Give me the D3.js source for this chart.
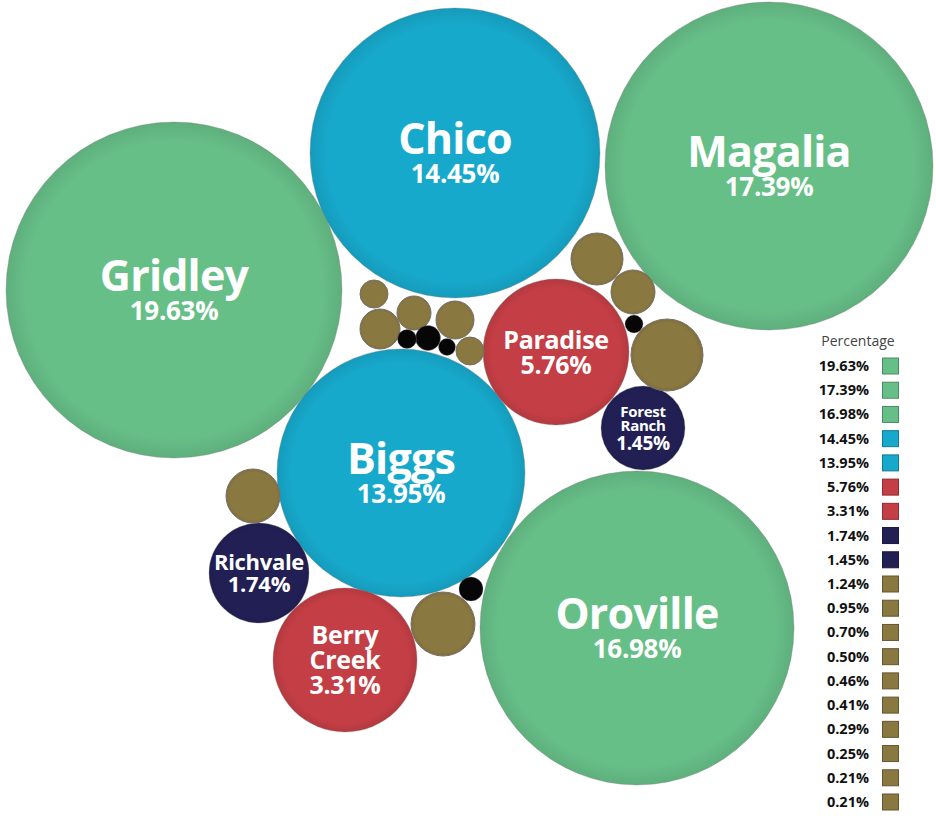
<!DOCTYPE html>
<html>
<head>
<meta charset="utf-8">
<script src="https://cdn.jsdelivr.net/npm/d3@7"></script>
<style>
  body { margin: 0; background: #fff; }
  text { font-family: "Open Sans", sans-serif; }
</style>
</head>
<body>
<div id="chart"></div>
<script>
// Named places, share of total (%)
const placeNames = ['Gridley', 'Magalia', 'Oroville', 'Chico', 'Biggs', 'Paradise', 'Berry Creek', 'Richvale', 'Forest Ranch'];
const placeValues = [19.63, 17.39, 16.98, 14.45, 13.95, 5.76, 3.31, 1.74, 1.45];
// Unlabeled small places (brown bubbles, listed in legend)
const smallValues = [1.24, 0.95, 0.70, 0.50, 0.46, 0.41, 0.29, 0.25, 0.21, 0.21];
// Tiny places (black dots, not in legend) - estimated
const tinyValues = [0.18, 0.17, 0.13, 0.12, 0.11];

// Hand-made bubble arrangement (layout units), same order as the values above
const layoutX = [174, 769, 637, 455, 401, 556, 345, 259, 643,
  667, 443, 253, 597, 633, 380, 455, 414, 374, 470,
  428, 471, 407, 634, 447];
const layoutY = [290, 166, 628, 153, 473, 352, 660, 573, 428,
  355, 624, 496, 259, 292, 329, 320, 313, 294, 351,
  338, 589, 339, 324, 347];

const width = 936;
const height = 816;

const bubbles = []
  .concat(placeValues.map((v, i) => ({ name: placeNames[i], value: v })))
  .concat(smallValues.map((v) => ({ name: null, value: v })))
  .concat(tinyValues.map((v) => ({ name: null, value: v })));
bubbles.forEach((d, i) => { d.lx = layoutX[i]; d.ly = layoutY[i]; });

const legendValues = placeValues.concat(smallValues);

// Scales
const xScale = d3.scaleLinear().domain([0, 936]).range([0, width]);
const yScale = d3.scaleLinear().domain([0, 816]).range([0, height]);

// radius: hand tuned, roughly sqrt-like
const rScale = d3.scaleLinear()
  .domain([0.11, 0.12, 0.13, 0.17, 0.21, 0.25, 0.29, 0.41, 0.46, 0.50, 0.70, 0.95, 1.24, 1.45, 1.74, 3.31, 5.76, 13.95, 14.45, 16.98, 17.39, 19.63])
  .range([8.5, 9, 9.5, 12, 14, 17, 19, 20, 22, 26, 27, 32, 36, 42, 50, 72, 73, 124, 145, 157, 164, 168]);

const color = d3.scaleThreshold()
  .domain([0.2, 1.3, 2, 10, 15])
  .range(['#060606', '#8a7841', '#221f55', '#c43e45', '#17a9cc', '#67bf88']);

const nameSize = d3.scaleThreshold().domain([45, 60, 100]).range([15, 22, 25, 43]);
const pctSize = d3.scaleThreshold().domain([45, 60, 100]).range([19, 22, 25, 26]);

const svg = d3.select('#chart')
  .append('svg')
  .attr('width', width)
  .attr('height', height);

// soft radial shading on the bubbles
const defs = svg.append('defs');
color.range().forEach((c, i) => {
  const g = defs.append('radialGradient').attr('id', `grad${i}`);
  g.append('stop').attr('offset', '0%').attr('stop-color', c);
  g.append('stop').attr('offset', '88%').attr('stop-color', c);
  g.append('stop').attr('offset', '100%').attr('stop-color', d3.color(c).darker(0.25));
});
const gradId = (v) => `url(#grad${color.range().indexOf(color(v))})`;

const nodes = svg.append('g')
  .selectAll('g')
  .data(bubbles)
  .join('g')
  .attr('transform', (d) => `translate(${xScale(d.lx)}, ${yScale(d.ly)})`);

nodes.append('circle')
  .attr('r', (d) => rScale(d.value))
  .attr('fill', (d) => gradId(d.value))
  .attr('stroke', (d) => (d.value < 1.3 && d.value >= 0.2 ? '#77706a' : 'rgba(120,120,120,0.35)'))
  .attr('stroke-width', 1);

// labels: one text per bubble, name (wrapped on spaces) over the percentage
nodes.filter((d) => d.name).each(function (d) {
  const r = rScale(d.value);
  const ns = nameSize(r);
  const ps = pctSize(r);
  const lines = d.name.split(' ');
  const nameGap = ns * 0.98;
  const pctGap = ps * (r > 100 ? 1.08 : 1.0);
  const pctBase = (lines.length - 1) * nameGap + pctGap;
  const top = -ns * 0.72;
  const shift = -(top + pctBase) / 2;

  const label = d3.select(this).append('text')
    .attr('text-anchor', 'middle')
    .attr('y', shift)
    .attr('fill', '#fff')
    .attr('font-weight', 700);

  lines.forEach((l, i) => {
    label.append('tspan')
      .attr('x', 0)
      .attr('dy', i === 0 ? 0 : nameGap)
      .attr('font-size', ns)
      .attr('letter-spacing', r > 100 ? -0.8 : -0.3)
      .text(l);
  });
  label.append('tspan')
    .attr('x', 0)
    .attr('dy', pctGap)
    .attr('font-size', ps)
    .attr('letter-spacing', -0.3)
    .text(`${d.value.toFixed(2)}%`);
});

// Legend
const legendY = d3.scalePoint()
  .domain(d3.range(legendValues.length))
  .range([366, 802]);

const legend = svg.append('g').attr('class', 'legend');

legend.append('text')
  .attr('x', 858)
  .attr('y', 346)
  .attr('text-anchor', 'middle')
  .attr('fill', '#444')
  .attr('font-size', 14)
  .text('Percentage');

const rows = legend.selectAll('g.row')
  .data(legendValues)
  .join('g')
  .attr('class', 'row')
  .attr('transform', (d, i) => `translate(0, ${legendY(i)})`);

rows.append('text')
  .attr('x', 869)
  .attr('y', 5)
  .attr('text-anchor', 'end')
  .attr('font-weight', 700)
  .attr('font-size', 14.5)
  .attr('fill', '#111')
  .text((d) => `${d.toFixed(2)}%`);

rows.append('rect')
  .attr('x', 882.5)
  .attr('y', -8)
  .attr('width', 16)
  .attr('height', 16)
  .attr('fill', (d) => color(d))
  .attr('stroke', (d) => d3.color(color(d)).darker(0.9))
  .attr('stroke-width', 1);
</script>
</body>
</html>
